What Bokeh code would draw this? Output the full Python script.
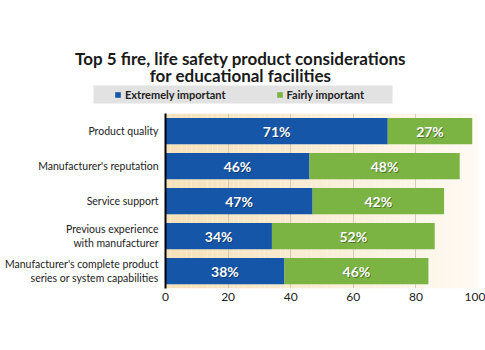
from bokeh.plotting import figure
from bokeh.layouts import column
from bokeh.models import (FactorRange, Range1d, FixedTicker, Label, Legend, LegendItem,
                          BoxAnnotation, ColumnDataSource)
from bokeh.core.properties import value
from bokeh.embed import file_html
from bokeh.resources import INLINE

# ---- data ----
categories = ["Product quality",
              "Manufacturer's reputation",
              "Service support",
              "Previous experience\nwith manufacturer",
              "Manufacturer's complete product\nseries or system capabilities"]
extremely = [71, 46, 47, 34, 38]
fairly = [27, 48, 42, 52, 46]
series_names = ["Extremely important", "Fairly important"]
x_ticks = [0, 20, 40, 60, 80, 100]
title_lines = ["Top 5 fire, life safety product considerations",
               "for educational facilities"]

BLUE = "#1656a8"
GREEN = "#7bb443"
FONT = "Lato"
TEXT = "#222222"

W = 485
HEADER_H = 113
MAIN_H = 350 - HEADER_H

factors = list(reversed(categories))
totals = [e + f for e, f in zip(extremely, fairly)]

src = ColumnDataSource(dict(
    cat=categories,
    ext=extremely,
    fair=fairly,
    tot=totals,
    ext_mid=[e / 2 for e in extremely],
    fair_mid=[e + f / 2 for e, f in zip(extremely, fairly)],
    ext_lab=[f"{e}%" for e in extremely],
    fair_lab=[f"{f}%" for f in fairly],
))

# ---------------- header: title + legend ----------------
h = figure(width=W, height=HEADER_H, x_range=Range1d(0, W), y_range=Range1d(0, HEADER_H),
           x_axis_type=None, y_axis_type=None, output_backend="svg",
           toolbar_location=None, min_border=0, title=None)
h.outline_line_color = None
h.grid.visible = False
h.background_fill_color = "white"
h.border_fill_color = "white"

for txt, yy in zip(title_lines, [HEADER_H - 58, HEADER_H - 75]):
    h.add_layout(Label(x=240, y=yy, text=txt, text_align="center",
                       text_baseline="alphabetic", text_font=FONT,
                       text_font_size="17px", text_font_style="bold",
                       text_color="#1a1a1a"))

h.add_layout(BoxAnnotation(left=93, right=392, top=HEADER_H - 85, bottom=HEADER_H - 103,
                           fill_color="#e2e2e2", fill_alpha=1, line_color=None,
                           level="underlay"))

# legend proxies carry the series (not drawn; only their legend swatches show)
lr1 = h.hbar(y=list(range(len(categories))), left=0, right=extremely, height=0.75,
             fill_color=BLUE, line_color=None, visible=False)
lr2 = h.hbar(y=list(range(len(categories))), left=extremely, right=totals, height=0.75,
             fill_color=GREEN, line_color=None, visible=False)
legend = Legend(items=[LegendItem(label=series_names[0], renderers=[lr1]),
                       LegendItem(label=series_names[1], renderers=[lr2])],
                location=(114, HEADER_H - 100.5), orientation="horizontal",
                padding=0, margin=0, spacing=50, glyph_width=7, glyph_height=7,
                label_standoff=4, label_text_font=FONT, label_text_font_size="11px",
                label_text_font_style="bold", label_text_color=TEXT,
                background_fill_alpha=0, border_line_alpha=0,
                inactive_fill_alpha=0)
h.add_layout(legend, "center")

# ---------------- main chart ----------------
p = figure(width=W, height=MAIN_H, y_range=FactorRange(factors=factors),
           x_range=Range1d(0, 100), output_backend="svg", toolbar_location=None,
           min_border_left=165, min_border_right=7, min_border_top=0,
           min_border_bottom=62, title=None)
p.outline_line_color = None
p.background_fill_color = "white"
p.border_fill_color = "white"

for fig in (h, p):
    if "frame_align" in fig.properties():
        fig.frame_align = False

# decorative background gradient (cream -> near white)
n = 60
c0 = (246, 226, 186)
c1 = (255, 250, 243)
lefts, rights, cols = [], [], []
for i in range(n):
    t = i / (n - 1)
    lefts.append(100 * i / n)
    rights.append(100 * (i + 1) / n)
    r = int(c0[0] + (c1[0] - c0[0]) * t)
    g = int(c0[1] + (c1[1] - c0[1]) * t)
    b = int(c0[2] + (c1[2] - c0[2]) * t)
    cols.append(f"#{r:02x}{g:02x}{b:02x}")
p.quad(left=lefts, right=rights, top=[(factors[-1], 0.5)] * n,
       bottom=[(factors[0], -0.5)] * n, fill_color=cols, line_color=None, level="image")

p.hbar(y="cat", left=0, right="ext", height=0.75, source=src,
       fill_color=BLUE, line_color=None)
p.hbar(y="cat", left="ext", right="tot", height=0.75, source=src,
       fill_color=GREEN, line_color=None)

for xcol, lcol in (("ext_mid", "ext_lab"), ("fair_mid", "fair_lab")):
    p.text(x=xcol, y="cat", text=lcol, source=src, x_offset=1, y_offset=1,
           text_align="center", text_baseline="middle", text_color="black",
           text_alpha=0.35, text_font=value(FONT), text_font_size="14px",
           text_font_style="bold")
    p.text(x=xcol, y="cat", text=lcol, source=src,
           text_align="center", text_baseline="middle", text_color="white",
           text_font=value(FONT), text_font_size="14px", text_font_style="bold")

p.xaxis.ticker = FixedTicker(ticks=x_ticks)
p.xaxis.axis_line_color = None
p.xaxis.major_tick_line_color = None
p.xaxis.minor_tick_line_color = None
p.xaxis.major_tick_out = 0
p.xaxis.major_tick_in = 0
p.xaxis.major_label_standoff = 4
p.xaxis.major_label_text_font = FONT
p.xaxis.major_label_text_font_size = "12px"
p.xaxis.major_label_text_color = TEXT

p.yaxis.axis_line_color = "black"
p.yaxis.axis_line_width = 2
p.yaxis.major_tick_line_color = None
p.yaxis.minor_tick_line_color = None
p.yaxis.major_tick_out = 0
p.yaxis.major_tick_in = 0
p.yaxis.major_label_standoff = 7
p.yaxis.major_label_text_font = FONT
p.yaxis.major_label_text_font_size = "10.5px"
p.yaxis.major_label_text_color = TEXT

p.xgrid.ticker = FixedTicker(ticks=x_ticks)
p.xgrid.grid_line_color = "#d3cab8"
p.ygrid.grid_line_color = None

layout = column(column(h), p, spacing=0)
open("out.html", "w").write(file_html(layout, INLINE))
